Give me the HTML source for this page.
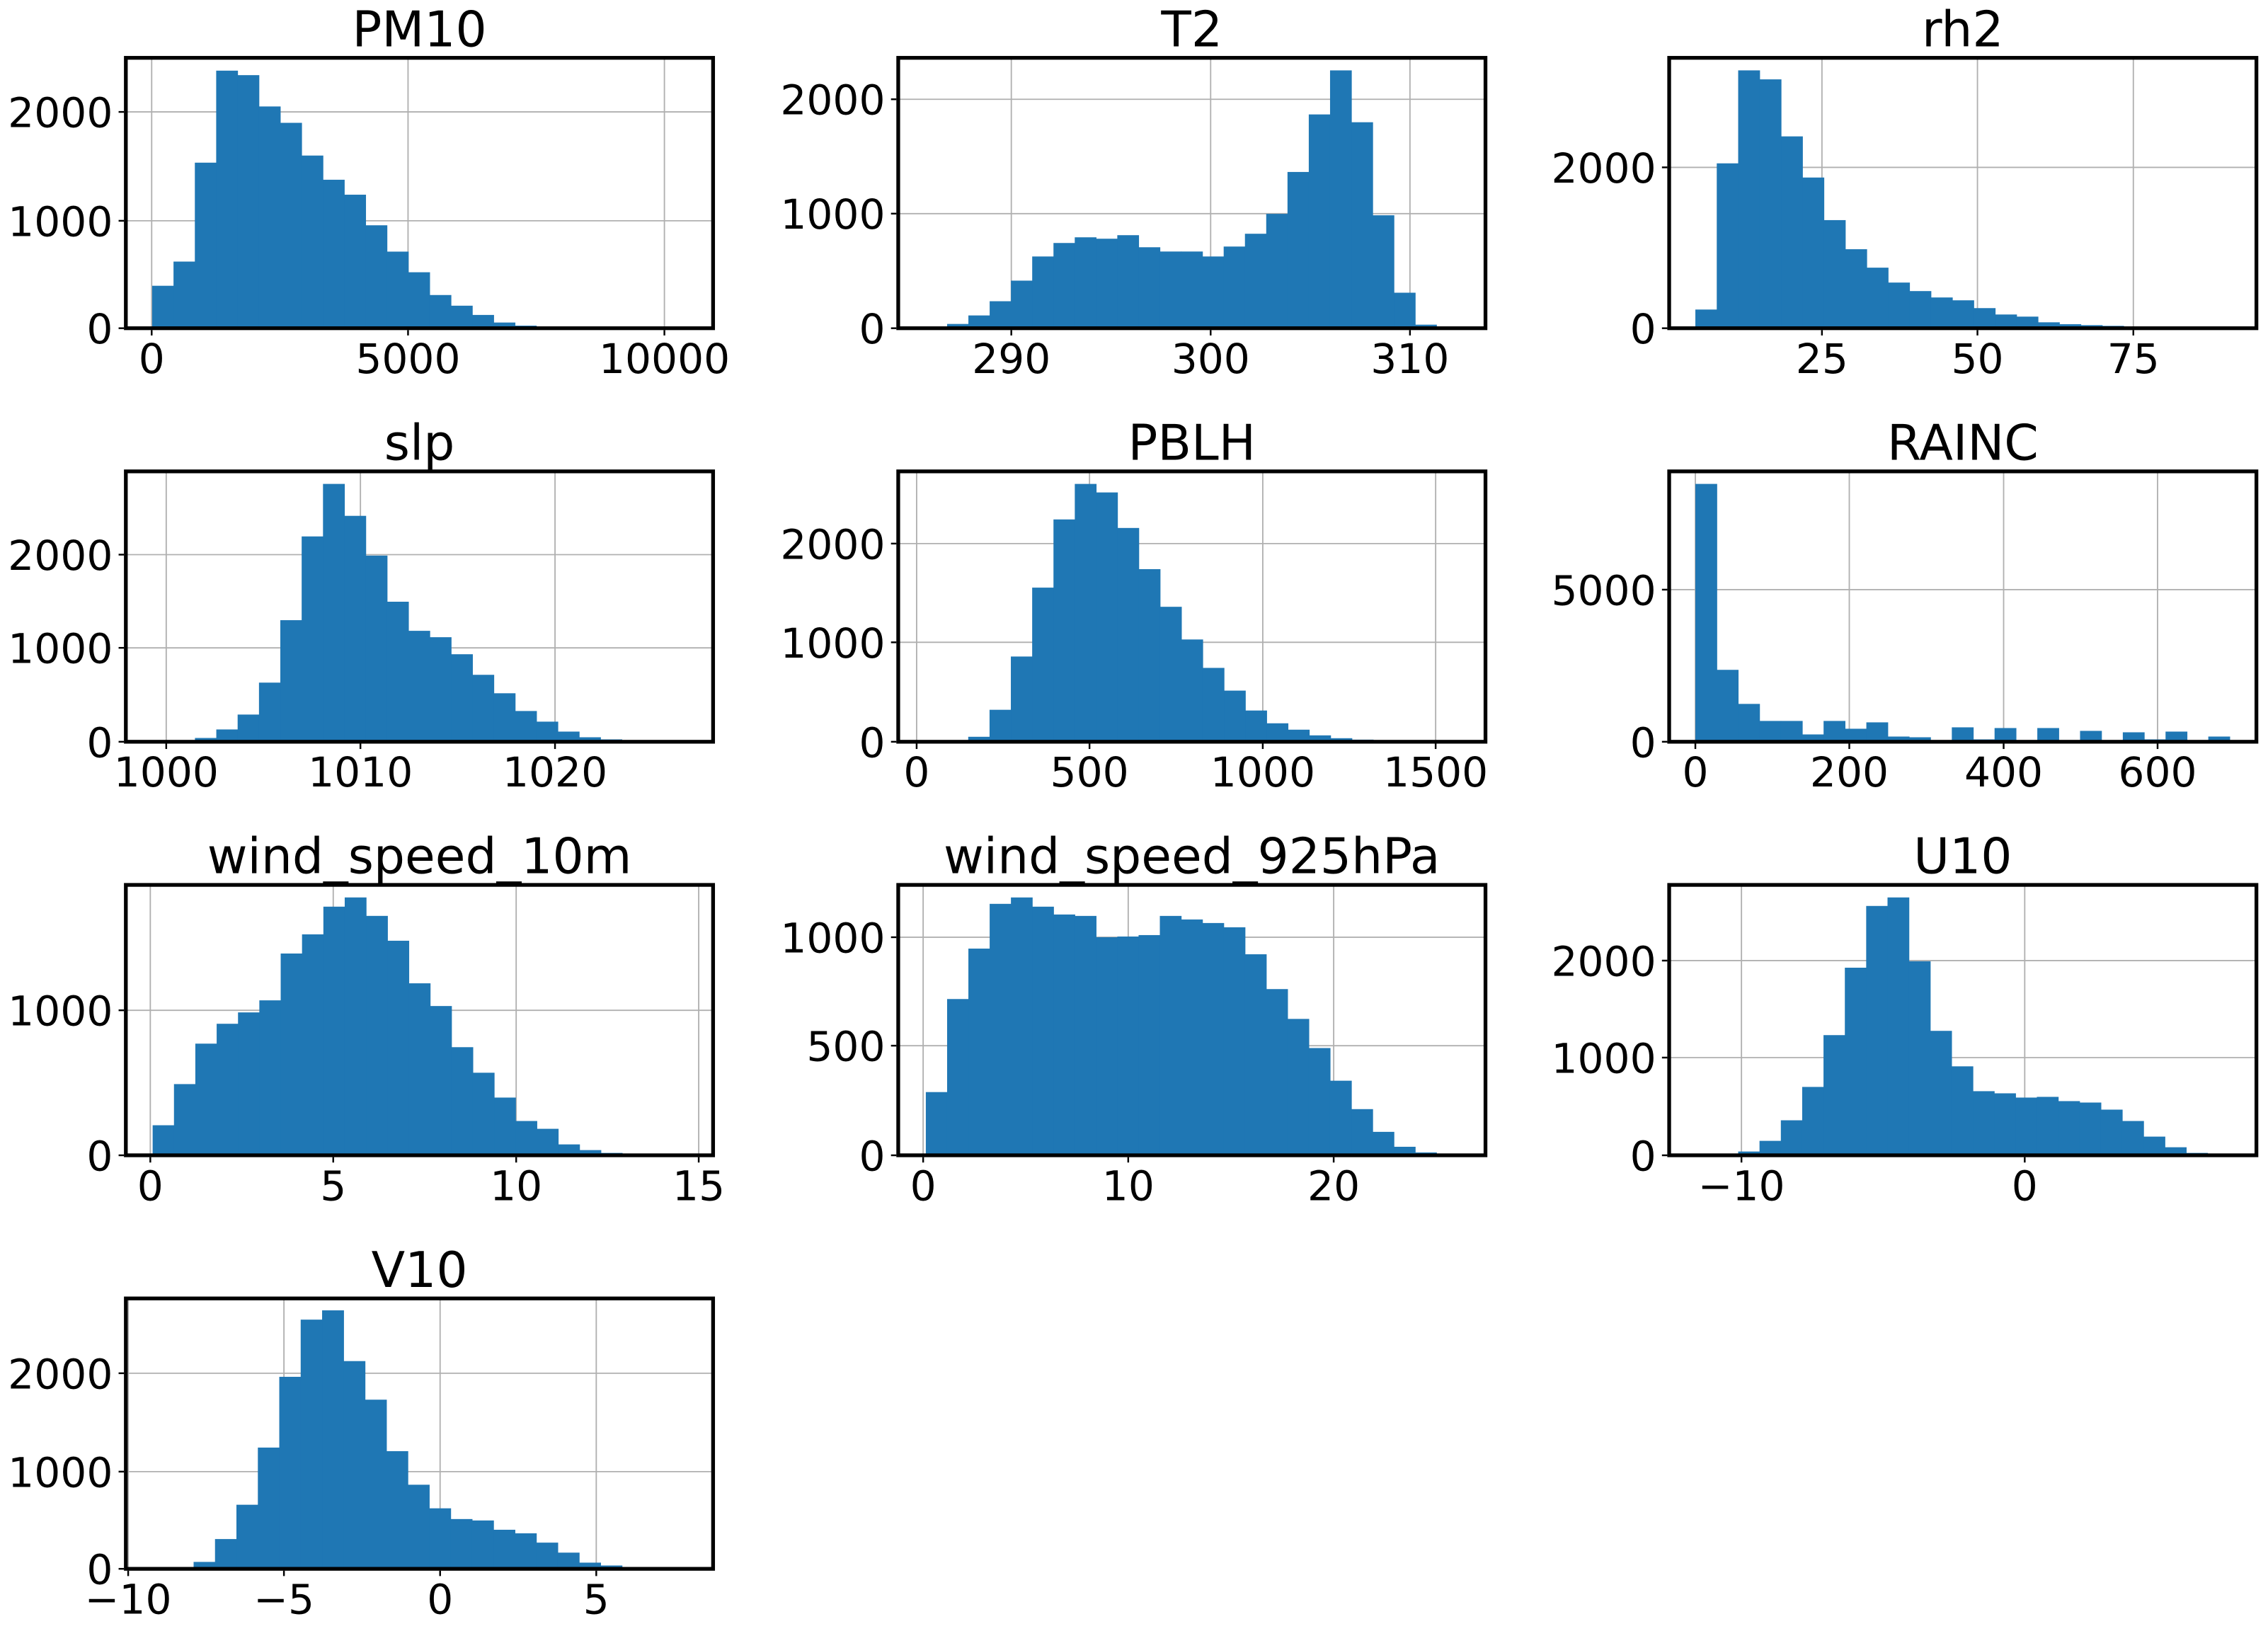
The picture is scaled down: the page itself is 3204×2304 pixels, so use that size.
<!DOCTYPE html>
<html><head><meta charset="utf-8">
<style>
html,body{margin:0;padding:0;background:#fff;}
svg{display:block;}
text{font-family:"DejaVu Sans","Liberation Sans",sans-serif;fill:#000;}
</style></head>
<body>
<svg id="s" xmlns="http://www.w3.org/2000/svg" width="3204" height="2304" viewBox="0 0 1568 1128" preserveAspectRatio="none"></svg>
<script>
var P=[
{t:"PM10",x0:87,y0:40,f:[255,1437,245,1385],s:308,w:42.95,
 tops:[1206,1104,687,299,318,450,519,657,759,822,951,1062,1149,1245,1290,1329,1361,1374,1380,1382,1383,1384,1384,1384,1384],
 gx:[[307,"0"],[823,"5000"],[1339,"10000"]],gy:[[1385,"0"],[932,"1000"],[473,"2000"]]},
{t:"T2",x0:621,y0:40,f:[15,1547,67,1209],s:87,w:55.5,
 tops:[1206,1191,1155,1095,1008,906,849,825,831,816,867,885,885,906,864,810,726,549,306,120,339,732,1059,1194,1207],
 gx:[[310,"290"],[830,"300"],[1350,"310"]],gy:[[1209,"0"],[725,"1000"],[242,"2000"]]},
{t:"rh2",x0:1154,y0:40,f:[37,1540,67,1210],s:104,w:54.8,
 tops:[1131,513,120,158,399,573,753,876,954,1017,1053,1080,1092,1125,1152,1161,1185,1193,1197,1200,1204,1206,1207,1208,1208],
 gx:[[428,"25"],[826,"50"],[1225,"75"]],gy:[[1210,"0"],[530,"2000"]]},
{t:"slp",x0:87,y0:326,f:[33,1545,67,1210],s:156,w:54.95,
 tops:[1207,1194,1158,1095,960,696,342,120,255,423,618,741,768,840,927,1005,1080,1125,1167,1191,1200,1205,1207,1208,1208],
 gx:[[137,"1000"],[637,"1010"],[1138,"1020"]],gy:[[1210,"0"],[813,"1000"],[419,"2000"]]},
{t:"PBLH",x0:621,y0:326,f:[15,1547,67,1209],s:142,w:55.6,
 tops:[1208,1188,1074,849,558,270,120,156,306,480,639,777,897,993,1077,1131,1158,1182,1194,1200,1205,1207,1208,1208,1208],
 gx:[[63,"0"],[514,"500"],[966,"1000"],[1417,"1500"]],gy:[[1209,"0"],[789,"1000"],[372,"2000"]]},
{t:"RAINC",x0:1154,y0:326,f:[37,1540,67,1210],s:104,w:54.7,
 tops:[120,906,1050,1122,1122,1179,1122,1155,1128,1188,1191,1210,1149,1200,1152,1210,1152,1210,1164,1210,1170,1200,1167,1210,1188],
 gx:[[104,"0"],[498,"200"],[893,"400"],[1287,"600"]],gy:[[1210,"0"],[567,"5000"]]},
{t:"wind_speed_10m",x0:87,y0:612,f:[33,1545,67,1210],s:102,w:54.95,
 tops:[1083,909,738,654,606,555,357,276,159,120,198,303,483,579,753,861,966,1065,1098,1164,1188,1200,1206,1208,1208],
 gx:[[96,"0"],[567,"5"],[1038,"10"],[1508,"15"]],gy:[[1210,"0"],[597,"1000"]]},
{t:"wind_speed_925hPa",x0:621,y0:612,f:[15,1547,67,1209],s:87,w:55.5,
 tops:[942,549,336,147,120,159,192,198,288,285,279,198,213,228,246,360,507,633,756,894,1014,1110,1173,1197,1207],
 gx:[[80,"0"],[615,"10"],[1151,"20"]],gy:[[1209,"0"],[746,"500"],[288,"1000"]]},
{t:"U10",x0:1154,y0:612,f:[37,1540,67,1210],s:159,w:54.6,
 tops:[1208,1194,1149,1062,921,702,417,156,120,390,684,834,939,948,966,963,981,987,1017,1065,1131,1176,1200,1208,1209],
 gx:[[222,"\u221210"],[947,"0"]],gy:[[1210,"0"],[797,"1000"],[387,"2000"]]},
{t:"V10",x0:87,y0:898,f:[37,1545,112,1247],s:101,w:55,
 tops:[1246,1245,1218,1122,978,738,441,201,162,375,537,753,894,993,1038,1044,1083,1098,1137,1179,1221,1233,1246,1247,1247],
 gx:[[43,"\u221210"],[443,"\u22125"],[844,"0"],[1245,"5"]],gy:[[1247,"0"],[839,"1000"],[426,"2000"]]}
];
var W=406,H=187,o="";
P.forEach(function(p){
 var L=p.f[0],R=p.f[1],T=p.f[2],B=p.f[3];
 function X(z){return p.x0+(z-L)/(R-L)*W;}
 function Y(z){return p.y0+(z-T)/(B-T)*H;}
 var yb=p.y0+H;
 o+='<clipPath id="c'+p.t+'"><rect x="'+p.x0+'" y="'+p.y0+'" width="'+W+'" height="'+H+'"/></clipPath>';
 o+='<g clip-path="url(#c'+p.t+')">';
 p.gx.forEach(function(g){var x=X(g[0]);o+='<line x1="'+x+'" y1="'+p.y0+'" x2="'+x+'" y2="'+yb+'" stroke="#b0b0b0" stroke-width="0.9"/>';});
 p.gy.forEach(function(g){var y=Y(g[0]);o+='<line x1="'+p.x0+'" y1="'+y+'" x2="'+(p.x0+W)+'" y2="'+y+'" stroke="#b0b0b0" stroke-width="0.9"/>';});
 p.tops.forEach(function(t,i){
  if(t>=B-0.5)return;
  var xa=X(p.s+i*p.w),xb=X(p.s+(i+1)*p.w),y=Y(t);
  o+='<rect x="'+xa.toFixed(2)+'" y="'+y.toFixed(2)+'" width="'+(xb-xa+0.3).toFixed(2)+'" height="'+(yb-y).toFixed(2)+'" fill="#1f77b4"/>';
 });
 o+='</g>';
 o+='<rect x="'+p.x0+'" y="'+p.y0+'" width="'+W+'" height="'+H+'" fill="none" stroke="#000" stroke-width="2.6"/>';
 p.gx.forEach(function(g){var x=X(g[0]);
  o+='<line x1="'+x+'" y1="'+(yb+1.3)+'" x2="'+x+'" y2="'+(yb+5)+'" stroke="#000" stroke-width="1.2"/>';
  o+='<text x="'+x+'" y="'+(yb+31)+'" font-size="28.5" text-anchor="middle">'+g[1]+'</text>';});
 p.gy.forEach(function(g){var y=Y(g[0]);
  o+='<line x1="'+(p.x0-5)+'" y1="'+y+'" x2="'+(p.x0-1.3)+'" y2="'+y+'" stroke="#000" stroke-width="1.2"/>';
  o+='<text x="'+(p.x0-9)+'" y="'+(y+10.5)+'" font-size="28.5" text-anchor="end">'+g[1]+'</text>';});
 o+='<text x="'+(p.x0+W/2)+'" y="'+(p.y0-8)+'" font-size="34" text-anchor="middle">'+p.t+'</text>';
});
document.getElementById("s").innerHTML=o;
</script>
</body></html>
